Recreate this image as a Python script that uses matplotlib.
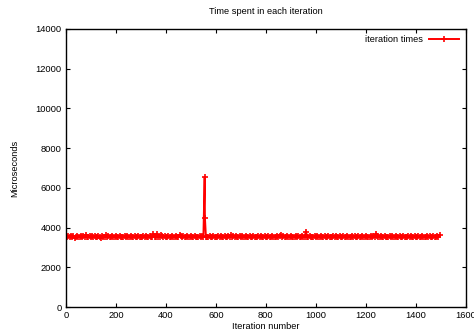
import matplotlib
matplotlib.use("Agg")
import matplotlib.pyplot as plt

# iteration number (mostly every 5th iteration, denser at the spike)
iterations = list(range(0, 555, 5)) + [555, 556] + list(range(560, 1500, 5))
# time spent in microseconds
times = [
    3540, 3520, 3580, 3510, 3560, 3530, 3600, 3500, 3550, 3570, 3520, 3540, 3590, 3510, 3560, 3530, 3650, 3520, 3550, 3580,
    3530, 3560, 3510, 3590, 3540, 3520, 3570, 3550, 3500, 3580, 3540, 3530, 3620, 3520, 3560, 3540, 3510, 3590, 3530, 3550,
    3570, 3520, 3540, 3600, 3510, 3550, 3530, 3580, 3520, 3560, 3540, 3510, 3590, 3530, 3550, 3570, 3520, 3540, 3600, 3510,
    3550, 3530, 3580, 3520, 3560, 3540, 3510, 3590, 3530, 3550, 3660, 3520, 3540, 3680, 3510, 3550, 3640, 3580, 3520, 3560,
    3540, 3510, 3590, 3530, 3550, 3570, 3520, 3540, 3600, 3510, 3550, 3620, 3580, 3520, 3560, 3540, 3510, 3590, 3530, 3550,
    3570, 3520, 3540, 3600, 3510, 3550, 3530, 3580, 3520, 3560, 3540, 6550, 4500, 3540, 3530, 3550, 3570, 3520, 3540, 3600, 3510,
    3550, 3530, 3580, 3520, 3560, 3540, 3510, 3590, 3530, 3550, 3570, 3520, 3640, 3510, 3560, 3530, 3580, 3520, 3550, 3600,
    3520, 3560, 3540, 3510, 3590, 3530, 3550, 3570, 3520, 3540, 3600, 3510, 3550, 3530, 3580, 3520, 3560, 3540, 3510, 3590,
    3530, 3550, 3570, 3520, 3540, 3600, 3510, 3550, 3530, 3580, 3520, 3560, 3630, 3510, 3590, 3530, 3550, 3570, 3520, 3540,
    3600, 3510, 3550, 3530, 3580, 3520, 3560, 3540, 3510, 3590, 3530, 3550, 3800, 3520, 3540, 3600, 3510, 3550, 3530, 3580,
    3520, 3560, 3540, 3510, 3590, 3530, 3550, 3570, 3520, 3540, 3600, 3510, 3550, 3530, 3580, 3520, 3560, 3540, 3510, 3590,
    3530, 3550, 3570, 3520, 3540, 3600, 3510, 3550, 3530, 3580, 3520, 3560, 3540, 3510, 3590, 3530, 3550, 3570, 3520, 3540,
    3600, 3510, 3550, 3530, 3580, 3520, 3560, 3540, 3700, 3590, 3530, 3550, 3570, 3520, 3540, 3600, 3510, 3550, 3530, 3580,
    3520, 3560, 3540, 3510, 3590, 3530, 3550, 3570, 3520, 3540, 3600, 3510, 3550, 3530, 3580, 3520, 3560, 3540, 3510, 3590,
    3530, 3550, 3570, 3520, 3540, 3600, 3510, 3550, 3530, 3580, 3520, 3560, 3540, 3510, 3590, 3530, 3550, 3570, 3520, 3620,
]

plt.rcParams["font.family"] = ["Liberation Sans", "DejaVu Sans"]
plt.rcParams["font.size"] = 6.7

fig = plt.figure(figsize=(4.74, 3.33), dpi=100)
ax = fig.add_axes([0.139, 0.078, 0.844, 0.835])

ax.plot(iterations, times, color="#ff0000", linewidth=1.4, marker="+",
        markersize=5, markeredgewidth=1.2, label="iteration times")

ax.set_xlim(0, 1600)
ax.set_ylim(0, 14000)
ax.set_xticks(range(0, 1601, 200))
ax.set_yticks(range(0, 14001, 2000))
ax.tick_params(direction="in", top=True, right=True, length=3, width=0.8, pad=3)
for s in ax.spines.values():
    s.set_linewidth(1.0)

ax.set_title("Time spent in each iteration", fontsize=6.7, pad=11)
ax.set_xlabel("Iteration number", labelpad=1)
ax.set_ylabel("Microseconds", labelpad=12)
ax.legend(loc="upper right", frameon=False, markerfirst=False, handlelength=3.3,
          borderaxespad=0.3, handletextpad=0.6)

fig.savefig("out.png", dpi=100)
